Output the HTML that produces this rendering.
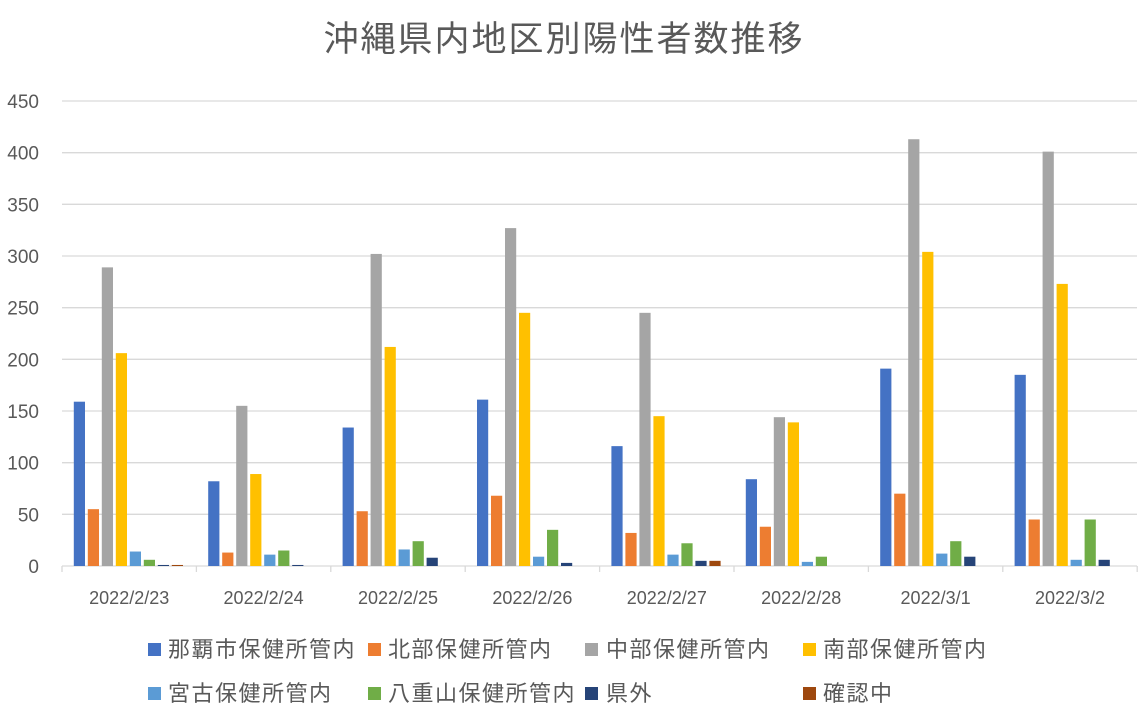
<!DOCTYPE html>
<html><head><meta charset="utf-8"><style>
html,body{margin:0;padding:0;background:#fff;}
svg{display:block;font-family:"Liberation Sans","Noto Sans CJK JP",sans-serif;}
</style></head><body>
<svg width="1147" height="721" viewBox="0 0 1147 721" xmlns="http://www.w3.org/2000/svg">
<rect width="1147" height="721" fill="#fff"/>
<text x="564" y="51" text-anchor="middle" font-size="35" fill="#595959" letter-spacing="2">沖縄県内地区別陽性者数推移</text>
<g id="grid" stroke="#d9d9d9" stroke-width="1.3"></g>
<g id="ylab" font-size="19" fill="#595959" text-anchor="end"></g>
<g id="bars"></g>
<g id="xlab" font-size="18" fill="#595959" text-anchor="middle"></g>
<g font-size="22" fill="#595959" letter-spacing="1.5">
<rect x="148" y="643" width="13" height="13" fill="#4472c4"/><text x="168" y="657">那覇市保健所管内</text>
<rect x="368" y="643" width="13" height="13" fill="#ed7d31"/><text x="388" y="657">北部保健所管内</text>
<rect x="585" y="643" width="13" height="13" fill="#a5a5a5"/><text x="606" y="657">中部保健所管内</text>
<rect x="803" y="643" width="13" height="13" fill="#ffc000"/><text x="823" y="657">南部保健所管内</text>
<rect x="148" y="687" width="13" height="13" fill="#5b9bd5"/><text x="168" y="701">宮古保健所管内</text>
<rect x="368" y="687" width="13" height="13" fill="#70ad47"/><text x="388" y="701">八重山保健所管内</text>
<rect x="585" y="687" width="13" height="13" fill="#264478"/><text x="606" y="701">県外</text>
<rect x="803" y="687" width="13" height="13" fill="#9e480e"/><text x="823" y="701">確認中</text>
</g>
</svg>
<script>
(function(){
var ns="http://www.w3.org/2000/svg";
function el(p,t,a,txt){var e=document.createElementNS(ns,t);for(var k in a)e.setAttribute(k,a[k]);if(txt!=null)e.textContent=txt;document.getElementById(p).appendChild(e);}
var base=566,ppu=465/450,x0=62,cw=134.4;
for(var v=0;v<=450;v+=50){var y=base-v*ppu;
 el("grid","line",{x1:x0,x2:1137,y1:y,y2:y});
 el("ylab","text",{x:39,y:y+7},v);}
for(var i=0;i<=8;i++){var x=x0+i*cw;el("grid","line",{x1:x,x2:x,y1:base,y2:base+6});}
var cols=["#4472c4","#ed7d31","#a5a5a5","#ffc000","#5b9bd5","#70ad47","#264478","#9e480e"];
var data=[[159,55,289,206,14,6,1,1],[82,13,155,89,11,15,1,0],[134,53,302,212,16,24,8,0],[161,68,327,245,9,35,3,0],[116,32,245,145,11,22,5,5],[84,38,144,139,4,9,0,0],[191,70,413,304,12,24,9,0],[185,45,401,273,6,45,6,0]];
var labs=["2022/2/23","2022/2/24","2022/2/25","2022/2/26","2022/2/27","2022/2/28","2022/3/1","2022/3/2"];
for(var c=0;c<8;c++){
 for(var s=0;s<8;s++){var v=data[c][s];if(!v)continue;var h=v*ppu;
  el("bars","rect",{x:x0+c*cw+11.8+s*14,y:base-h,width:11.2,height:h,fill:cols[s]});}
 el("xlab","text",{x:x0+c*cw+cw/2,y:604},labs[c]);}
})();
</script>
</body></html>
